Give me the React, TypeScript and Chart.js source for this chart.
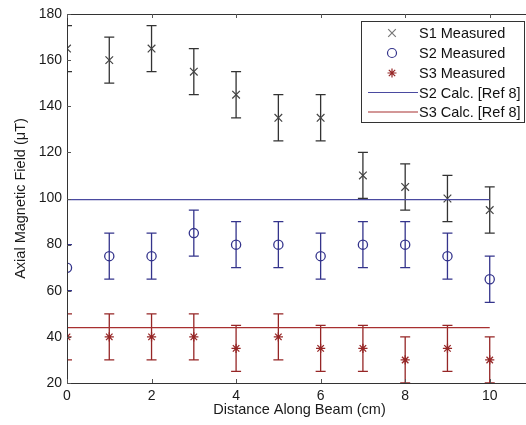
import React, { useEffect, useRef } from "react";
import { Chart, registerables } from "chart.js";

Chart.register(...registerables);

const xValues = [0, 1, 2, 3, 4, 5, 6, 7, 8, 9, 10];
const s1Values = [165, 160, 165, 155, 145, 135, 135, 110, 105, 100, 95];
const s2Values = [70, 75, 75, 85, 80, 80, 75, 80, 80, 75, 65];
const s3Values = [40, 40, 40, 40, 35, 40, 35, 35, 30, 35, 30];
const s1Err = [10, 10, 10, 10, 10, 10, 10, 10, 10, 10, 10];
const s2Err = [10, 10, 10, 10, 10, 10, 10, 10, 10, 10, 10];
const s3Err = [10, 10, 10, 10, 10, 10, 10, 10, 10, 10, 10];
const s2CalcValue = 99.5;
const s3CalcValue = 44;
const calcRange = [0, 10];
const xTicks = [0, 2, 4, 6, 8, 10];
const yTicks = [20, 40, 60, 80, 100, 120, 140, 160, 180];
const seriesNames = ["S1 Measured", "S2 Measured", "S3 Measured", "S2 Calc. [Ref 8]", "S3 Calc. [Ref 8]"];

const C1 = "#444444";
const C2 = "#34348c";
const C3 = "#962626";
const L2 = "#4a4aa0";
const L3 = "#a83030";
const FONT = "'Liberation Sans', Arial, sans-serif";

const errSets = [
  { values: s1Values, err: s1Err, color: "#333333" },
  { values: s2Values, err: s2Err, color: C2 },
  { values: s3Values, err: s3Err, color: C3 },
];

const errorBarPlugin = {
  id: "errorBars",
  beforeDatasetsDraw(chart: any) {
    const { ctx, chartArea, scales } = chart;
    const xs = scales.x;
    const ys = scales.y;
    ctx.save();
    ctx.beginPath();
    ctx.rect(chartArea.left, chartArea.top, chartArea.right - chartArea.left, chartArea.bottom - chartArea.top);
    ctx.clip();
    ctx.lineWidth = 1.3;
    for (const s of errSets) {
      ctx.strokeStyle = s.color;
      xValues.forEach((xv, i) => {
        const px = xs.getPixelForValue(xv);
        const top = ys.getPixelForValue(s.values[i] + s.err[i]);
        const bot = ys.getPixelForValue(s.values[i] - s.err[i]);
        ctx.beginPath();
        ctx.moveTo(px, top);
        ctx.lineTo(px, bot);
        ctx.moveTo(px - 5, top);
        ctx.lineTo(px + 5, top);
        ctx.moveTo(px - 5, bot);
        ctx.lineTo(px + 5, bot);
        ctx.stroke();
      });
    }
    ctx.restore();
  },
};

function drawMarker(ctx: CanvasRenderingContext2D, kind: string, x: number, y: number, color: string) {
  ctx.save();
  ctx.strokeStyle = color;
  ctx.lineWidth = 1.2;
  ctx.beginPath();
  if (kind === "x") {
    const r = 3.8;
    ctx.moveTo(x - r, y - r);
    ctx.lineTo(x + r, y + r);
    ctx.moveTo(x - r, y + r);
    ctx.lineTo(x + r, y - r);
  } else if (kind === "o") {
    ctx.arc(x, y, 4.5, 0, Math.PI * 2);
  } else {
    const r = 4.5;
    const d = r * Math.SQRT1_2;
    ctx.moveTo(x - r, y);
    ctx.lineTo(x + r, y);
    ctx.moveTo(x, y - r);
    ctx.lineTo(x, y + r);
    ctx.moveTo(x - d, y - d);
    ctx.lineTo(x + d, y + d);
    ctx.moveTo(x - d, y + d);
    ctx.lineTo(x + d, y - d);
  }
  ctx.stroke();
  ctx.restore();
}

const framePlugin = {
  id: "frame",
  afterDatasetsDraw(chart: any) {
    const { ctx, chartArea, scales } = chart;
    const { left, right, top, bottom } = chartArea;
    ctx.save();
    ctx.strokeStyle = "#333333";
    ctx.lineWidth = 1;
    ctx.strokeRect(Math.round(left) + 0.5, Math.round(top) + 0.5, Math.round(right - left), Math.round(bottom - top));
    ctx.strokeStyle = "#555555";
    const tl = 4;
    for (const t of xTicks) {
      const px = Math.round(scales.x.getPixelForValue(t)) + 0.5;
      ctx.beginPath();
      ctx.moveTo(px, bottom);
      ctx.lineTo(px, bottom - tl);
      ctx.moveTo(px, top);
      ctx.lineTo(px, top + tl);
      ctx.stroke();
    }
    for (const t of yTicks) {
      const py = Math.round(scales.y.getPixelForValue(t)) + 0.5;
      ctx.beginPath();
      ctx.moveTo(left, py);
      ctx.lineTo(left + tl, py);
      ctx.moveTo(right, py);
      ctx.lineTo(right - tl, py);
      ctx.stroke();
    }
    ctx.restore();
  },
  afterDraw(chart: any) {
    const ctx = chart.ctx as CanvasRenderingContext2D;
    // legend box
    const bx = 361.5, by = 21.5, bw = 163, bh = 101;
    ctx.save();
    ctx.fillStyle = "#ffffff";
    ctx.fillRect(bx, by, bw, bh);
    ctx.strokeStyle = "#333333";
    ctx.lineWidth = 1;
    ctx.strokeRect(bx, by, bw, bh);
    const rows = [33, 53, 73, 92.5, 112];
    const kinds = ["x", "o", "*", "l", "l"];
    const colors = ["#777777", C2, C3, L2, L3];
    ctx.font = `14.5px ${FONT}`;
    ctx.fillStyle = "#111111";
    ctx.textBaseline = "middle";
    ctx.textAlign = "left";
    rows.forEach((ry, i) => {
      if (kinds[i] === "l") {
        ctx.strokeStyle = colors[i];
        ctx.lineWidth = 1.2;
        ctx.beginPath();
        ctx.moveTo(368, ry);
        ctx.lineTo(418, ry);
        ctx.stroke();
      } else {
        drawMarker(ctx, kinds[i], 392, ry, colors[i]);
      }
      ctx.fillStyle = "#111111";
      ctx.fillText(seriesNames[i], 419, ry + 1);
    });
    ctx.restore();
  },
};

export default function App() {
  const ref = useRef<HTMLCanvasElement | null>(null);
  useEffect(() => {
    document.body.style.margin = "0";
    if (!ref.current) return;
    const pts = (vals: number[]) => xValues.map((x, i) => ({ x, y: vals[i] }));
    const chart = new Chart(ref.current, {
      type: "scatter",
      data: {
        datasets: [
          {
            label: seriesNames[3],
            type: "line",
            data: calcRange.map((x) => ({ x, y: s2CalcValue })),
            borderColor: L2,
            borderWidth: 1.3,
            pointRadius: 0,
            showLine: true,
          },
          {
            label: seriesNames[4],
            type: "line",
            data: calcRange.map((x) => ({ x, y: s3CalcValue })),
            borderColor: L3,
            borderWidth: 1.3,
            pointRadius: 0,
            showLine: true,
          },
          {
            label: seriesNames[0],
            data: pts(s1Values),
            pointStyle: "crossRot",
            pointRadius: 5.4,
            borderColor: C1,
            backgroundColor: "transparent",
            pointBorderWidth: 1.2,
          },
          {
            label: seriesNames[1],
            data: pts(s2Values),
            pointStyle: "circle",
            pointRadius: 4.6,
            borderColor: C2,
            backgroundColor: "transparent",
            pointBorderWidth: 1.3,
          },
          {
            label: seriesNames[2],
            data: pts(s3Values),
            pointStyle: "star",
            pointRadius: 4.6,
            borderColor: C3,
            backgroundColor: "transparent",
            pointBorderWidth: 1.3,
          },
        ],
      } as any,
      options: {
        responsive: false,
        animation: false,
        layout: { padding: { top: 14, right: 8, left: 0, bottom: 0 } },
        plugins: { legend: { display: false }, tooltip: { enabled: false } },
        scales: {
          x: {
            type: "linear",
            min: 0,
            max: 11,
            grid: { display: false, drawTicks: false },
            border: { display: false },
            afterBuildTicks: (s: any) => {
              s.ticks = xTicks.map((v) => ({ value: v }));
            },
            afterFit: (s: any) => {
              s.height = 42;
            },
            ticks: { color: "#1a1a1a", padding: 5, font: { size: 14, family: FONT }, maxRotation: 0 },
            title: {
              display: true,
              text: "Distance Along Beam (cm)",
              color: "#1a1a1a",
              font: { size: 14.5, family: FONT },
              padding: { top: 0, bottom: 6 },
            },
          },
          y: {
            type: "linear",
            min: 20,
            max: 180,
            grid: { display: false, drawTicks: false },
            border: { display: false },
            afterBuildTicks: (s: any) => {
              s.ticks = yTicks.map((v) => ({ value: v }));
            },
            afterFit: (s: any) => {
              s.width = 67;
            },
            ticks: { color: "#1a1a1a", padding: 5, font: { size: 14, family: FONT } },
            title: {
              display: true,
              text: "Axial Magnetic Field (\u03bcT)",
              color: "#1a1a1a",
              font: { size: 14.5, family: FONT },
              padding: { top: 12, bottom: 0 },
            },
          },
        },
      } as any,
      plugins: [errorBarPlugin, framePlugin],
    });
    return () => chart.destroy();
  }, []);
  return (
    <div style={{ position: "fixed", left: 0, top: 0, width: 526, height: 425, overflow: "hidden", background: "#fff" }}>
      <canvas ref={ref} width={540} height={425} style={{ width: 540, height: 425, display: "block" }} />
    </div>
  );
}
